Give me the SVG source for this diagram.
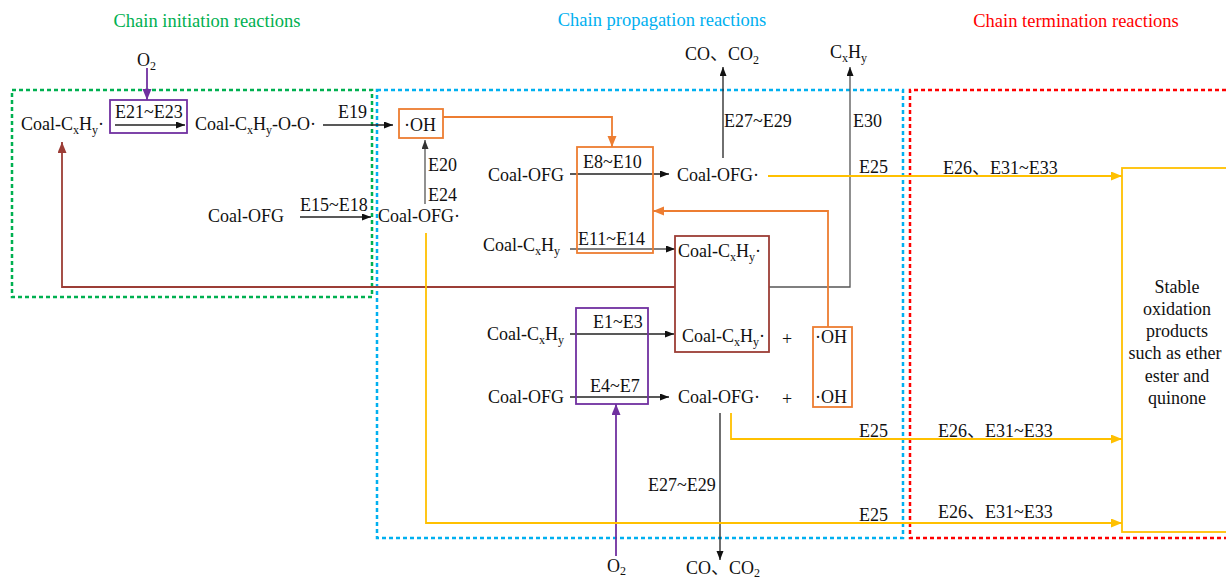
<svg xmlns="http://www.w3.org/2000/svg" width="1226" height="580" viewBox="0 0 1226 580">
  <style>
    text { font-family: "Liberation Serif", "Times New Roman", "DejaVu Serif", serif; font-size: 18px; fill: #111; }
    .cjk { font-family: "Liberation Serif", "Times New Roman", "Noto Sans CJK SC", serif; }
    .sub { font-size: 12px; }
    .title { font-size: 18.5px; }
    .zone { fill: none; stroke-width: 2.5; stroke-dasharray: 4 3; }
    .ln { fill: none; stroke-width: 1.3; }
    .k { stroke: #222; }
    .g { stroke: #555; }
    .or { stroke: #ED7D31; stroke-width: 1.8; }
    .ye { stroke: #FFC000; stroke-width: 1.8; }
    .pu { stroke: #7030A0; stroke-width: 1.8; }
    .br { stroke: #9C3D36; stroke-width: 1.8; }
    .box { fill: none; stroke-width: 1.8; }
  </style>
  <defs>
    <marker id="ak" markerUnits="userSpaceOnUse" markerWidth="10" markerHeight="8" refX="9" refY="3.5" orient="auto"><path d="M0,0 L9,3.5 L0,7 z" fill="#111"/></marker>
    <marker id="ag" markerUnits="userSpaceOnUse" markerWidth="10" markerHeight="8" refX="9" refY="3.5" orient="auto"><path d="M0,0 L9,3.5 L0,7 z" fill="#333"/></marker>
    <marker id="ao" markerUnits="userSpaceOnUse" markerWidth="12" markerHeight="10" refX="11" refY="4.5" orient="auto"><path d="M0,0 L11,4.5 L0,9 z" fill="#ED7D31"/></marker>
    <marker id="ay" markerUnits="userSpaceOnUse" markerWidth="12" markerHeight="10" refX="11" refY="4.5" orient="auto"><path d="M0,0 L11,4.5 L0,9 z" fill="#FFC000"/></marker>
    <marker id="ap" markerUnits="userSpaceOnUse" markerWidth="12" markerHeight="10" refX="11" refY="4.5" orient="auto"><path d="M0,0 L11,4.5 L0,9 z" fill="#7030A0"/></marker>
    <marker id="ab" markerUnits="userSpaceOnUse" markerWidth="12" markerHeight="10" refX="11" refY="4.5" orient="auto"><path d="M0,0 L11,4.5 L0,9 z" fill="#9C3D36"/></marker>
  </defs>

  <rect width="1226" height="580" fill="#fff"/>

  <!-- reaction stage zones -->
  <g id="zones">
    <rect class="zone" x="12" y="90" width="360" height="207" stroke="#00B050"/>
    <rect class="zone" x="377" y="90" width="526" height="448" stroke="#00B0F0"/>
    <path class="zone" d="M1240,90 H910 V538 H1240" stroke="#FF0000"/>
    <text class="title" x="207" y="27" text-anchor="middle" style="fill:#00B050">Chain initiation reactions</text>
    <text class="title" x="662" y="26" text-anchor="middle" style="fill:#00B0F0">Chain propagation reactions</text>
    <text class="title" x="1076" y="27" text-anchor="middle" style="fill:#FF0000">Chain termination reactions</text>
  </g>

  <!-- connectors -->
  <g id="connectors">
    <!-- initiation -->
    <line class="ln pu" x1="147" y1="68" x2="147" y2="100" marker-end="url(#ap)"/>
    <line class="ln k" x1="115" y1="125" x2="185" y2="125" marker-end="url(#ak)"/>
    <line class="ln k" x1="323" y1="125" x2="393" y2="125" marker-end="url(#ak)"/>
    <line class="ln k" x1="300" y1="217" x2="371" y2="217" marker-end="url(#ak)"/>
    <line class="ln g" x1="425" y1="204" x2="425" y2="140" marker-end="url(#ag)"/>
    <!-- OH to E8~E14 -->
    <path class="ln or" d="M443,117 H612 V147" marker-end="url(#ao)"/>
    <!-- propagation arrows -->
    <line class="ln k" x1="570" y1="174" x2="669" y2="174" marker-end="url(#ak)"/>
    <line class="ln g" x1="570" y1="249" x2="675" y2="249" marker-end="url(#ak)"/>
    <line class="ln k" x1="570" y1="334" x2="674" y2="334" marker-end="url(#ak)"/>
    <line class="ln k" x1="570" y1="397" x2="669" y2="397" marker-end="url(#ak)"/>
    <line class="ln pu" x1="616" y1="556" x2="616" y2="404" marker-end="url(#ap)"/>
    <!-- products -->
    <line class="ln k" x1="723" y1="158" x2="723" y2="67" marker-end="url(#ak)"/>
    <path class="ln g" d="M769,287 H850 V67" marker-end="url(#ak)"/>
    <line class="ln k" x1="720" y1="413" x2="720" y2="560" marker-end="url(#ak)"/>
    <!-- feedback -->
    <path class="ln br" d="M675,287 H62 V142" marker-end="url(#ab)"/>
    <path class="ln or" d="M828,327 V211 H653" marker-end="url(#ao)"/>
    <!-- termination -->
    <line class="ln ye" x1="768" y1="176" x2="1122" y2="176" marker-end="url(#ay)"/>
    <path class="ln ye" d="M731,413 V439 H1122" marker-end="url(#ay)"/>
    <path class="ln ye" d="M426,233 V523 H1122" marker-end="url(#ay)"/>
  </g>

  <!-- connector labels -->
  <g id="labels">
    <text x="115" y="118">E21~E23</text>
    <text x="338" y="118">E19</text>
    <text x="300" y="211">E15~E18</text>
    <text x="428" y="171">E20</text>
    <text x="428" y="201">E24</text>
    <text x="583" y="168">E8~E10</text>
    <text x="578" y="245">E11~E14</text>
    <text x="593" y="328">E1~E3</text>
    <text x="590" y="392">E4~E7</text>
    <text x="724" y="127">E27~E29</text>
    <text x="853" y="127">E30</text>
    <text x="648" y="491">E27~E29</text>
    <text x="859" y="173">E25</text>
    <text x="859" y="437">E25</text>
    <text x="859" y="521">E25</text>
    <text class="cjk" x="943" y="174">E26、E31~E33</text>
    <text class="cjk" x="938" y="437">E26、E31~E33</text>
    <text class="cjk" x="938" y="518">E26、E31~E33</text>
  </g>

  <!-- species -->
  <g id="n-o2-top"><text x="137" y="66">O<tspan class="sub" dy="4">2</tspan></text></g>
  <g id="n-coal-r-init"><text x="21" y="130">Coal-C<tspan class="sub" dy="4">x</tspan><tspan dy="-4">H</tspan><tspan class="sub" dy="4">y</tspan><tspan dy="-4">·</tspan></text></g>
  <g id="n-e21-box"><rect class="box" x="110" y="100" width="77" height="33" stroke="#7030A0"/></g>
  <g id="n-peroxy"><text x="195" y="130">Coal-C<tspan class="sub" dy="4">x</tspan><tspan dy="-4">H</tspan><tspan class="sub" dy="4">y</tspan><tspan dy="-4">-O-O·</tspan></text></g>
  <g id="n-oh-top">
    <rect class="box" x="399" y="109" width="44" height="29" stroke="#ED7D31"/>
    <text x="404" y="131">·OH</text>
  </g>
  <g id="n-ofg-init"><text x="208" y="222">Coal-OFG</text></g>
  <g id="n-ofg-rad-init"><text x="378" y="222">Coal-OFG·</text></g>

  <g id="n-e8-box"><rect class="box" x="577" y="147" width="76" height="106" stroke="#ED7D31"/></g>
  <g id="n-ofg-a"><text x="488" y="181">Coal-OFG</text></g>
  <g id="n-cxhy-a"><text x="483" y="251">Coal-C<tspan class="sub" dy="4">x</tspan><tspan dy="-4">H</tspan><tspan class="sub" dy="4">y</tspan></text></g>
  <g id="n-ofg-rad-a"><text x="677" y="181">Coal-OFG·</text></g>

  <g id="n-co-top"><text class="cjk" x="685" y="60">CO、CO<tspan class="sub" dy="4">2</tspan></text></g>
  <g id="n-cxhy-top"><text x="830" y="58">C<tspan class="sub" dy="4">x</tspan><tspan dy="-4">H</tspan><tspan class="sub" dy="4">y</tspan></text></g>

  <g id="n-radical-box">
    <rect class="box" x="675" y="236" width="94" height="116" stroke="#9C3D36"/>
    <text x="678" y="257">Coal-C<tspan class="sub" dy="4">x</tspan><tspan dy="-4">H</tspan><tspan class="sub" dy="4">y</tspan><tspan dy="-4">·</tspan></text>
    <text x="682" y="342">Coal-C<tspan class="sub" dy="4">x</tspan><tspan dy="-4">H</tspan><tspan class="sub" dy="4">y</tspan><tspan dy="-4">·</tspan></text>
  </g>

  <g id="n-e1-box"><rect class="box" x="576" y="308" width="72" height="96" stroke="#7030A0"/></g>
  <g id="n-cxhy-b"><text x="487" y="340">Coal-C<tspan class="sub" dy="4">x</tspan><tspan dy="-4">H</tspan><tspan class="sub" dy="4">y</tspan></text></g>
  <g id="n-ofg-b"><text x="488" y="403">Coal-OFG</text></g>
  <g id="n-ofg-rad-b"><text x="678" y="403">Coal-OFG·</text></g>
  <g id="n-plus">
    <text x="787" y="345" text-anchor="middle">+</text>
    <text x="787" y="405" text-anchor="middle">+</text>
  </g>
  <g id="n-oh-pair">
    <rect class="box" x="813" y="327" width="39" height="80" stroke="#ED7D31"/>
    <text x="815" y="343">·OH</text>
    <text x="815" y="403">·OH</text>
  </g>

  <g id="n-o2-bottom"><text x="607" y="572">O<tspan class="sub" dy="3">2</tspan></text></g>
  <g id="n-co-bottom"><text class="cjk" x="686" y="574">CO、CO<tspan class="sub" dy="3">2</tspan></text></g>

  <g id="n-stable">
    <rect class="box" x="1122" y="168" width="124" height="364" stroke="#FFC000"/>
    <text x="1177" y="293" text-anchor="middle">Stable</text>
    <text x="1177" y="315" text-anchor="middle">oxidation</text>
    <text x="1177" y="337" text-anchor="middle">products</text>
    <text x="1175" y="359" text-anchor="middle">such as ether</text>
    <text x="1177" y="382" text-anchor="middle">ester and</text>
    <text x="1177" y="404" text-anchor="middle">quinone</text>
  </g>
</svg>
